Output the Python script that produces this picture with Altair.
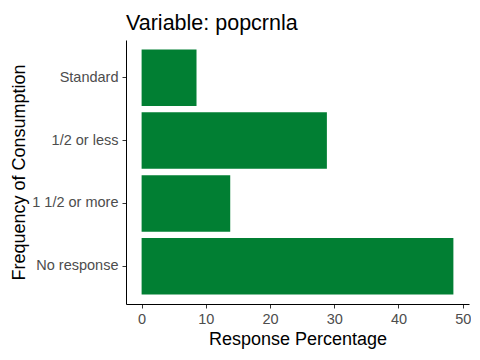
import altair as alt
import pandas as pd

categories = ["Standard", "1/2 or less", "1 1/2 or more", "No response"]
values = [8.55, 28.85, 13.8, 48.55]

df = pd.DataFrame({"cat": categories, "pct": values})

font = "Liberation Sans"

chart = alt.Chart(df).mark_bar(color="#017f33").encode(
    x=alt.X("pct:Q", title="Response Percentage",
            scale=alt.Scale(domain=[-2.43, 50.98], nice=False, zero=False),
            axis=alt.Axis(values=[0, 10, 20, 30, 40, 50], grid=False,
                          domainColor="black", tickColor="#333333", tickSize=4,
                          labelColor="#4d4d4d", labelFontSize=14.5, labelFont=font,
                          labelPadding=4, titleFont=font, titleFontSize=18,
                          titleFontWeight="normal", titleColor="black", titlePadding=5,
                          labelFlush=False)),
    y=alt.Y("cat:N", sort=categories, title="Frequency of Consumption",
            scale=alt.Scale(paddingInner=0.1, paddingOuter=0.15),
            axis=alt.Axis(grid=False, domainColor="black", tickColor="#333333",
                          tickSize=4, labelColor="#4d4d4d", labelFontSize=14.5,
                          labelFont=font, labelPadding=4, titleFont=font,
                          titleFontSize=18, titleFontWeight="normal",
                          titleColor="black", titlePadding=3)),
).properties(
    width=343, height=264,
    title=alt.TitleParams("Variable: popcrnla", anchor="start", frame="group",
                          font=font, fontSize=21.5, fontWeight="normal",
                          color="black", offset=6),
    autosize=alt.AutoSizeParams(type="none"),
    padding={"left": 118, "top": 32, "right": 2, "bottom": 48},
).configure_view(stroke=None)

chart.save("out.html", embed_options={"renderer": "svg", "actions": False})
